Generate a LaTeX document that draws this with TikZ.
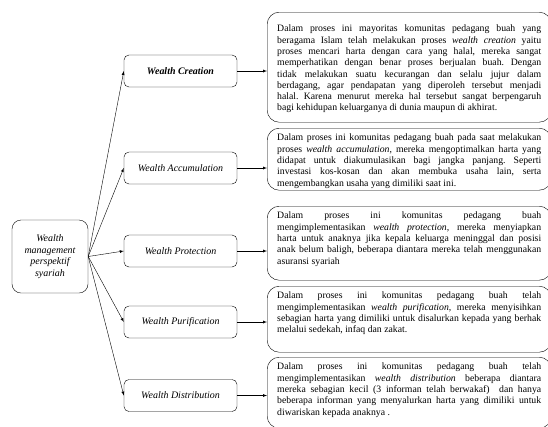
\documentclass[tikz,border=0pt]{standalone}
\usepackage{fontspec}
\setmainfont{Liberation Serif}
\frenchspacing
\tikzset{
  mainbox/.style={draw,rounded corners=9bp,align=center,minimum width=76bp,minimum height=73bp,inner sep=2bp,font=\fontsize{10}{11.5}\selectfont\itshape},
  stagebox/.style={draw,rounded corners=5bp,minimum width=113bp,minimum height=32bp,inner sep=2bp,font=\fontsize{10}{12}\selectfont\itshape},
  descbox/.style={draw,rounded corners=12bp,anchor=north west,inner xsep=10bp,inner ysep=6bp,font=\fontsize{9.8}{11.3}\selectfont},
  link/.style={-latex,thin}
}
\newcommand{\desctext}[2]{\parbox[c][#1][t]{264bp}{\hyphenpenalty=10000\emergencystretch=20bp #2}}
\begin{document}
\begin{tikzpicture}[x=1bp,y=-1bp]
\useasboundingbox (0,0) rectangle (548,426);
\node[mainbox] (wm) at (50,256.5) {Wealth\\management\\perspektif\\syariah};
\node[stagebox] (wc) at (180.5,71) {\textbf{Wealth Creation}};
\node[stagebox] (wa) at (180.5,168) {Wealth Accumulation};
\node[stagebox] (wp) at (180.5,251) {Wealth Protection};
\node[stagebox] (wu) at (180.5,322) {Wealth Purification};
\node[stagebox] (wd) at (180.5,395.5) {Wealth Distribution};
\node[descbox] (d1) at (267,12) {\desctext{98bp}{\vspace*{7bp}Dalam proses ini mayoritas komunitas pedagang buah yang\linebreak
beragama Islam telah melakukan proses \textit{wealth creation} yaitu\linebreak
proses mencari harta dengan cara yang halal, mereka sangat\linebreak
memperhatikan dengan benar proses berjualan buah. Dengan\linebreak
tidak melakukan suatu kecurangan dan selalu jujur dalam\linebreak
berdagang, agar pendapatan yang diperoleh tersebut menjadi\linebreak
halal. Karena menurut mereka hal tersebut sangat berpengaruh\linebreak
bagi kehidupan keluarganya di dunia maupun di akhirat.}};
\node[descbox] (d2) at (267,128) {\desctext{50bp}{Dalam proses ini komunitas pedagang buah pada saat melakukan\linebreak
proses \textit{wealth accumulation}, mereka mengoptimalkan harta yang\linebreak
didapat untuk diakumulasikan bagi jangka panjang. Seperti\linebreak
investasi kos-kosan dan akan membuka usaha lain, serta\linebreak
mengembangkan usaha yang dimiliki saat ini.}};
\node[descbox] (d3) at (267,206) {\desctext{62bp}{Dalam proses ini komunitas pedagang buah\linebreak
mengimplementasikan \textit{wealth protection,} mereka menyiapkan\linebreak
harta untuk anaknya jika kepala keluarga meninggal dan posisi\linebreak
anak belum baligh, beberapa diantara mereka telah menggunakan\linebreak
asuransi syariah}};
\node[descbox] (d4) at (267,286) {\desctext{54bp}{Dalam proses ini komunitas pedagang buah telah\linebreak
mengimplementasikan \textit{wealth purification,} mereka menyisihkan\linebreak
sebagian harta yang dimiliki untuk disalurkan kepada yang berhak\linebreak
melalui sedekah, infaq dan zakat.}};
\node[descbox] (d5) at (267,357) {\desctext{59bp}{Dalam proses ini komunitas pedagang buah telah\linebreak
mengimplementasikan \textit{wealth distribution} beberapa diantara\linebreak
mereka sebagian kecil (3 informan telah berwakaf)\ \ dan hanya\linebreak
beberapa informan yang menyalurkan harta yang dimiliki untuk\linebreak
diwariskan kepada anaknya .}};
\foreach \s in {wc,wa,wp,wu,wd}
  \draw[link] (wm.east) -- (\s.west);
\draw[link] (wc.east) -- (wc.east -| d1.west);
\draw[link] (wa.east) -- (wa.east -| d2.west);
\draw[link] (wp.east) -- (wp.east -| d3.west);
\draw[link] (wu.east) -- (wu.east -| d4.west);
\draw[link] (wd.east) -- (wd.east -| d5.west);
\end{tikzpicture}
\end{document}
